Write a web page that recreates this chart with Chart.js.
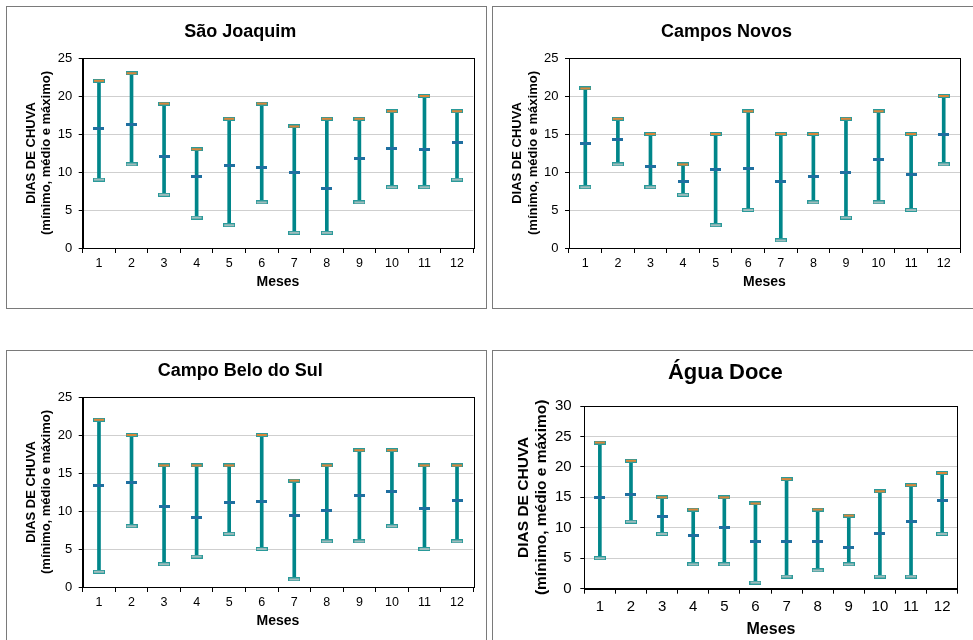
<!DOCTYPE html>
<html>
<head>
<meta charset="utf-8">
<script src="https://cdn.jsdelivr.net/npm/chart.js@4.4.1/dist/chart.umd.min.js"></script>
<style>
  html, body { margin: 0; padding: 0; background: #fff; width: 973px; height: 640px; overflow: hidden; }
  .panel { position: absolute; box-sizing: border-box; border: 1px solid #7a7a7a; background: #fff; }
  .panel canvas { position: absolute; left: 0; top: 0; }
</style>
</head>
<body>
<div class="panel" style="left:6px;top:6px;width:481px;height:303px;"><canvas id="c1" width="479" height="301"></canvas></div>
<div class="panel" style="left:492px;top:6px;width:482px;height:303px;"><canvas id="c2" width="479" height="301"></canvas></div>
<div class="panel" style="left:6px;top:350px;width:481px;height:300px;"><canvas id="c3" width="479" height="289"></canvas></div>
<div class="panel" style="left:492px;top:350px;width:482px;height:300px;"><canvas id="c4" width="479" height="289"></canvas></div>
<script>
// ---- Data ----
const months = ['1','2','3','4','5','6','7','8','9','10','11','12'];
const yTicks25 = [0, 5, 10, 15, 20, 25];
const yTicks30 = [0, 5, 10, 15, 20, 25, 30];

const sjTitle = 'São Joaquim';
const sjMax  = [22, 23, 19, 13, 17, 19, 16, 17, 17, 18, 20, 18];
const sjMean = [15.7, 16.2, 12.0, 9.4, 10.9, 10.6, 10.0, 7.8, 11.8, 13.1, 12.9, 13.9];
const sjMin  = [9, 11, 7, 4, 3, 6, 2, 2, 6, 8, 8, 9];

const cnTitle = 'Campos Novos';
const cnMax  = [21, 17, 15, 11, 15, 18, 15, 15, 17, 18, 15, 20];
const cnMean = [13.8, 14.3, 10.7, 8.8, 10.3, 10.5, 8.8, 9.4, 10.0, 11.7, 9.7, 15.0];
const cnMin  = [8, 11, 8, 7, 3, 5, 1, 6, 4, 6, 5, 11];

const cbTitle = 'Campo Belo do Sul';
const cbMax  = [22, 20, 16, 16, 16, 20, 14, 16, 18, 18, 16, 16];
const cbMean = [13.3, 13.8, 10.6, 9.2, 11.1, 11.2, 9.4, 10.1, 12.0, 12.6, 10.3, 11.4];
const cbMin  = [2, 8, 3, 4, 7, 5, 1, 6, 6, 8, 5, 6];

const adTitle = 'Água Doce';
const adMax  = [24, 21, 15, 13, 15, 14, 18, 13, 12, 16, 17, 19];
const adMean = [15.0, 15.4, 11.9, 8.7, 10.0, 7.8, 7.8, 7.7, 6.7, 9.0, 11.0, 14.5];
const adMin  = [5, 11, 9, 4, 4, 1, 2, 3, 4, 2, 2, 9];

const xTitle = 'Meses';
const yTitle = ['DIAS DE CHUVA', '(mínimo, médio e máximo)'];

// ---- Styling ----
const FONT = "'Liberation Sans', Arial, sans-serif";
const TEAL = '#00868a';

function makeCap(w, h, fill, stroke) {
  const c = document.createElement('canvas');
  c.width = w; c.height = h;
  const g = c.getContext('2d');
  g.fillStyle = stroke; g.fillRect(0, 0, w, h);
  g.fillStyle = fill; g.fillRect(1, 1, w - 2, h - 2);
  return c;
}
const capMax = makeCap(12, 4, '#d9873a', '#2a9a9a');
const capMin = makeCap(12, 4, '#9fbdbd', '#2a9a9a');
const capMean = makeCap(11, 3, '#1f6fa0', '#1f6fa0');

const framePlugin = {
  id: 'frame',
  beforeDatasetsDraw(chart) {
    const a = chart.chartArea, ctx = chart.ctx;
    ctx.save();
    ctx.strokeStyle = '#000';
    ctx.lineWidth = 1;
    ctx.strokeRect(Math.round(a.left) + 0.5, Math.round(a.top) + 0.5, Math.round(a.right - a.left), Math.round(a.bottom - a.top));
    ctx.restore();
  }
};

function build(id, title, mins, means, maxs, ticks, L) {
  const ranges = mins.map((v, i) => [v, maxs[i]]);
  new Chart(document.getElementById(id), {
    type: 'bar',
    data: {
      labels: months,
      datasets: [
        { type: 'line', data: maxs, showLine: false, pointStyle: capMax, pointRadius: 6, order: 1 },
        { type: 'line', data: mins, showLine: false, pointStyle: capMin, pointRadius: 6, order: 1 },
        { type: 'line', data: means, showLine: false, pointStyle: capMean, pointRadius: 6, order: 1 },
        { type: 'bar', data: ranges, backgroundColor: TEAL, borderWidth: 0, barThickness: L.bar, order: 2 }
      ]
    },
    options: {
      responsive: false,
      animation: false,
      events: [],
      layout: { padding: { left: 0, right: L.padR, top: 0, bottom: L.padB } },
      plugins: {
        legend: { display: false },
        tooltip: { enabled: false },
        title: {
          display: true, text: title, color: '#000',
          font: { family: FONT, size: L.titleSize, weight: 'bold' },
          padding: { top: L.titlePT, bottom: L.titlePB }
        }
      },
      scales: {
        x: {
          offset: true,
          grid: { offset: true, drawOnChartArea: false, drawTicks: true, tickLength: 5, tickColor: '#000', lineWidth: 1 },
          border: { display: true, color: '#000', width: 1 },
          ticks: { color: '#000', font: { family: FONT, size: L.xTickSize }, padding: L.xTickPad, maxRotation: 0, autoSkip: false },
          title: { display: true, text: xTitle, color: '#000', font: { family: FONT, size: L.xTitleSize, weight: 'bold' }, padding: { top: 0, bottom: 0 } },
          afterFit(s) { s.height = L.xH; }
        },
        y: {
          min: 0, max: ticks[ticks.length - 1],
          afterBuildTicks(s) { s.ticks = ticks.map(v => ({ value: v })); },
          grid: { color: '#cfcfcf', lineWidth: 1, drawTicks: true, tickLength: 4, tickColor: '#000' },
          border: { display: true, color: '#000', width: 1 },
          ticks: { color: '#000', font: { family: FONT, size: L.yTickSize }, padding: L.yTickPad },
          title: { display: true, text: yTitle, color: '#000', font: { family: FONT, size: L.yTitleSize, weight: 'bold', lineHeight: 1.2 }, padding: { top: L.yTitlePT, bottom: 0 } },
          afterFit(s) { s.width = L.yW; }
        }
      }
    },
    plugins: [framePlugin]
  });
}

const L1 = { bar: 3, padR: 12.7, padB: 17.6, titleSize: 18, titlePT: 14, titlePB: 15.4,
  xTickSize: 12.5, xTickPad: 3, xTitleSize: 14, xH: 42.4,
  yTickSize: 13, yTickPad: 6.5, yTitleSize: 13, yTitlePT: 16.2, yW: 75.7 };
const L2 = Object.assign({}, L1, { padR: 12, yW: 76, yTitlePT: 17 });
const L3 = Object.assign({}, L1, { padB: 10.6, titlePT: 8.9, titlePB: 15.5 });
const L4 = { bar: 3, padR: 14.3, padB: 0.4, titleSize: 22, titlePT: 9.1, titlePB: 19.5,
  xTickSize: 15, xTickPad: 4, xTitleSize: 16, xH: 50.9,
  yTickSize: 15, yTickPad: 8.6, yTitleSize: 15.5, yTitlePT: 21, yW: 91.3 };

build('c1', sjTitle, sjMin, sjMean, sjMax, yTicks25, L1);
build('c2', cnTitle, cnMin, cnMean, cnMax, yTicks25, L2);
build('c3', cbTitle, cbMin, cbMean, cbMax, yTicks25, L3);
build('c4', adTitle, adMin, adMean, adMax, yTicks30, L4);
</script>
</body>
</html>
